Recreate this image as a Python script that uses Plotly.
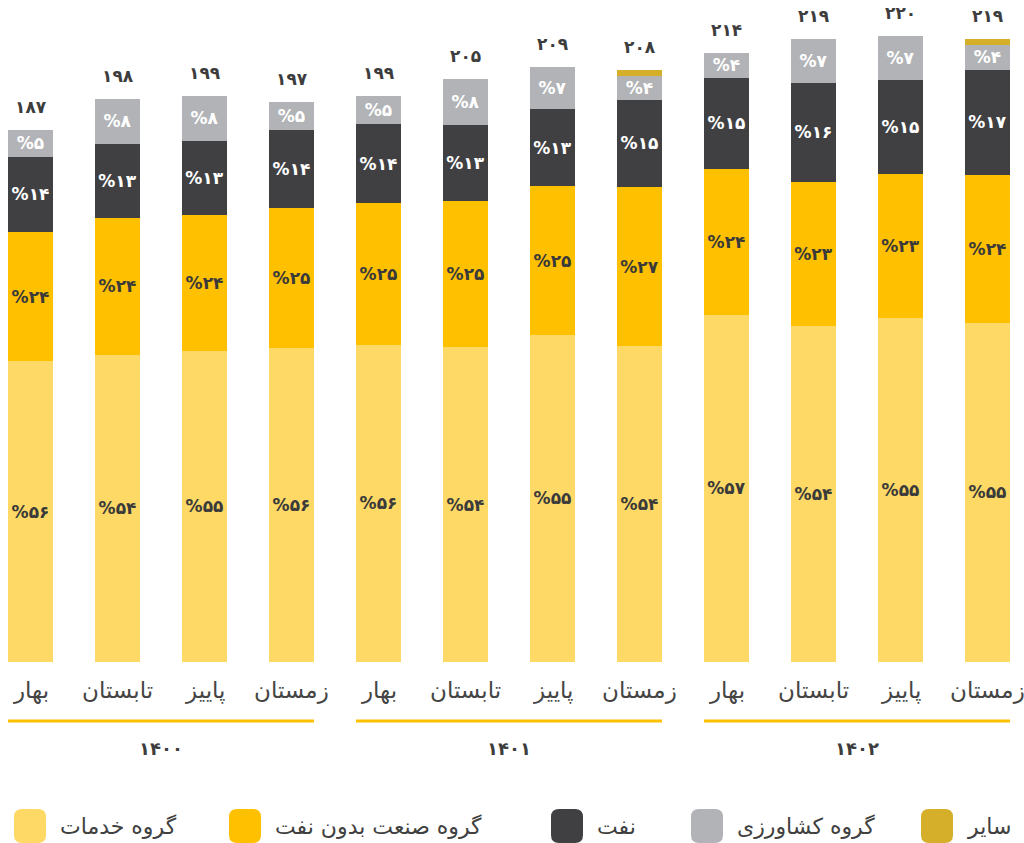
import plotly.graph_objects as go

# Seasonal shares of GDP by sector (percent), with quarterly totals
seasons = ["بهار", "تابستان", "پاییز", "زمستان"] * 3
years = ["۱۴۰۰", "۱۴۰۱", "۱۴۰۲"]
totals = [187, 198, 199, 197, 199, 205, 209, 208, 214, 219, 220, 219]
services = [56, 54, 55, 56, 56, 54, 55, 54, 57, 54, 55, 55]
industry = [24, 24, 24, 25, 25, 25, 25, 27, 24, 23, 23, 24]
oil = [14, 13, 13, 14, 14, 13, 13, 15, 15, 16, 15, 17]
agriculture = [5, 8, 8, 5, 5, 8, 7, 4, 4, 7, 7, 4]
other = [0, 0, 0, 0, 0, 0, 0, 1, 0, 0, 0, 1]

series_names = ["گروه خدمات", "گروه صنعت بدون نفت", "نفت", "گروه کشاورزی", "سایر"]
series_colors = ["#FED966", "#FFC000", "#404042", "#B1B3B6", "#D5AE2A"]
label_colors = ["#3a3a3a", "#3a3a3a", "#ffffff", "#ffffff", None]

FONT = "DejaVu Sans"
FA_DIGITS = str.maketrans("0123456789", "۰۱۲۳۴۵۶۷۸۹")


def fa(n):
    return str(n).translate(FA_DIGITS)


W, H = 1024, 843
PLOT_BOTTOM = 662
x_idx = list(range(len(totals)))
XMIN, XMAX = -0.3506, 11.4195
BAR_W = 0.517

shares = [services, industry, oil, agriculture, other]
share_sum = [sum(s[i] for s in shares) for i in x_idx]

fig = go.Figure()
for name, color, lcolor, pct in zip(series_names, series_colors, label_colors, shares):
    vals = [totals[i] * pct[i] / share_sum[i] for i in x_idx]
    texts = ["%" + fa(p) if lcolor else "" for p in pct]
    fig.add_trace(go.Bar(
        x=x_idx, y=vals, name=name, width=BAR_W,
        marker=dict(color=color, line=dict(width=0)),
        text=texts, textposition="inside", insidetextanchor="middle",
        constraintext="none",
        textfont=dict(family=FONT, size=17, color=lcolor or "#000", weight="bold"),
        hoverinfo="skip", showlegend=False,
    ))


def xp(px):
    return px / W


def yp(py):
    return (PLOT_BOTTOM - py) / PLOT_BOTTOM


def x_data_to_paper(xd):
    return (xd - XMIN) / (XMAX - XMIN)


annotations = []
# totals above the bars
for i in x_idx:
    annotations.append(dict(
        x=i, y=totals[i], xref="x", yref="y", text=fa(totals[i]),
        showarrow=False, yanchor="bottom", yshift=11,
        font=dict(family=FONT, size=17, color="#3d3d3d", weight="bold"),
    ))

# season names under each bar
for i in x_idx:
    annotations.append(dict(
        x=i, y=yp(690), xref="x", yref="paper", text=seasons[i],
        showarrow=False, xanchor="center", yanchor="middle",
        font=dict(family=FONT, size=23, color="#454545"),
    ))

shapes = []
# year group underlines and labels
for g, year in enumerate(years):
    first, last = 4 * g, 4 * g + 3
    shapes.append(dict(
        type="line", xref="paper", yref="paper",
        x0=x_data_to_paper(first - BAR_W / 2), x1=x_data_to_paper(last + BAR_W / 2),
        y0=yp(721), y1=yp(721), line=dict(color="#FFC000", width=3),
    ))
    annotations.append(dict(
        x=x_data_to_paper((first + last) / 2), y=yp(748), xref="paper", yref="paper",
        text=year, showarrow=False, xanchor="center", yanchor="middle",
        font=dict(family=FONT, size=18, color="#3d3d3d", weight="bold"),
    ))

# legend row with rounded swatches
legend_left = [14, 229, 551, 691, 921]
SW_W, SW_H, R = 32, 34, 8
sw_top = 809
for name, color, left in zip(series_names, series_colors, legend_left):
    x0, x1 = xp(left), xp(left + SW_W)
    y0, y1 = yp(sw_top), yp(sw_top + SW_H)
    rx, ry = R / W, R / PLOT_BOTTOM
    path = (
        f"M {x0 + rx},{y0} L {x1 - rx},{y0} Q {x1},{y0} {x1},{y0 - ry} "
        f"L {x1},{y1 + ry} Q {x1},{y1} {x1 - rx},{y1} "
        f"L {x0 + rx},{y1} Q {x0},{y1} {x0},{y1 + ry} "
        f"L {x0},{y0 - ry} Q {x0},{y0} {x0 + rx},{y0} Z"
    )
    shapes.append(dict(type="path", xref="paper", yref="paper", path=path,
                       fillcolor=color, line=dict(width=0)))
    annotations.append(dict(
        x=xp(left + SW_W + 12), y=yp(826), xref="paper", yref="paper",
        text=name, showarrow=False, xanchor="left", yanchor="middle",
        font=dict(family=FONT, size=22, color="#404040"),
    ))

fig.update_layout(
    width=W, height=H, barmode="stack",
    margin=dict(l=0, r=0, t=0, b=H - PLOT_BOTTOM),
    plot_bgcolor="#ffffff", paper_bgcolor="#ffffff",
    font=dict(family=FONT),
    xaxis=dict(
        range=[XMIN, XMAX], showticklabels=False,
        ticks="", showline=False, showgrid=False, zeroline=False,
        fixedrange=True,
    ),
    yaxis=dict(range=[0, PLOT_BOTTOM / 2.845], visible=False, fixedrange=True),
    shapes=shapes, annotations=annotations,
)

fig.write_html("out.html")
